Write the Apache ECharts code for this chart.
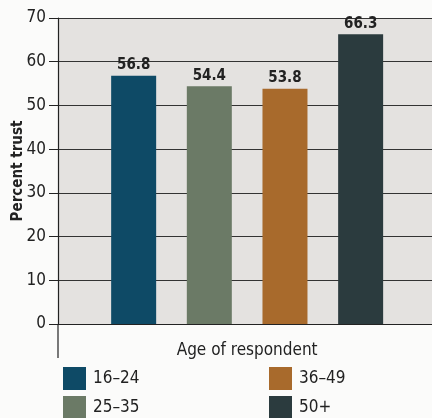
<!DOCTYPE html>
<html>
<head>
<meta charset="utf-8">
<script src="https://cdn.jsdelivr.net/npm/echarts@6/dist/echarts.min.js"></script>
<style>
html,body{margin:0;padding:0;background:#fbfbfa;}
#c{width:432px;height:418px;}
</style>
</head>
<body>
<div id="c"></div>
<script>
const ageGroups = ['16–24', '25–35', '36–49', '50+'];
const trustValues = [56.8, 54.4, 53.8, 66.3];
const barColors = ['#0e4a66', '#6b7a66', '#a86a2c', '#2b3b3e'];
const yTicks = [0, 10, 20, 30, 40, 50, 60, 70];

const FONT = '"Liberation Sans Narrow", "DejaVu Sans Condensed", sans-serif';
const categories = [''].concat(ageGroups, ['']);

const series = ageGroups.map((g, i) => {
  const data = categories.map(c => (c === g ? trustValues[i] : null));
  return {
    name: g,
    type: 'bar',
    data: data,
    barWidth: 45,
    barGap: '-100%',
    itemStyle: { color: barColors[i] },
    label: {
      show: true,
      position: 'top',
      distance: 3,
      fontFamily: FONT,
      fontWeight: 'bold',
      fontSize: 15,
      color: '#222',
      formatter: p => p.value.toFixed(1)
    }
  };
});

const chart = echarts.init(document.getElementById('c'));
const legendCommon = {
  orient: 'vertical',
  top: 367,
  height: 60,
  padding: 0,
  itemWidth: 23,
  itemHeight: 23,
  itemGap: 6,
  icon: 'rect',
  textStyle: { fontFamily: FONT, fontSize: 17, color: '#222', padding: [6, 0, 0, 2] }
};
chart.setOption({
  backgroundColor: '#fbfbfa',
  animation: false,
  grid: {
    left: 58, right: -4.3, top: 18, bottom: 94,
    outerBoundsMode: 'none',
    containLabel: false,
    show: true, backgroundColor: '#e4e2e0', borderWidth: 0
  },
  legend: [
    Object.assign({ left: 63, data: ageGroups.slice(0, 2) }, legendCommon),
    Object.assign({ left: 269, data: ageGroups.slice(2) }, legendCommon)
  ],
  xAxis: {
    type: 'category',
    data: categories,
    boundaryGap: false,
    axisLine: { show: true, lineStyle: { color: '#222', width: 1.2 } },
    axisTick: { show: false },
    axisLabel: { show: false },
    splitLine: { show: false },
    name: 'Age of respondent',
    nameLocation: 'middle',
    nameGap: 18,
    nameTextStyle: { fontFamily: FONT, fontSize: 17, color: '#222', verticalAlign: 'top' }
  },
  yAxis: {
    type: 'value',
    min: yTicks[0],
    max: yTicks[yTicks.length - 1],
    interval: 10,
    axisLine: { show: true, lineStyle: { color: '#222', width: 1.2 } },
    axisTick: { show: true, length: 9, lineStyle: { color: '#222' } },
    axisLabel: { fontFamily: FONT, fontSize: 17, color: '#222', margin: 12 },
    splitLine: { show: true, lineStyle: { color: '#333', width: 1 } },
    name: 'Percent trust',
    nameLocation: 'middle',
    nameGap: 32,
    nameMoveOverlap: false,
    nameRotate: 90,
    nameTextStyle: { fontFamily: FONT, fontSize: 15, fontWeight: 'bold', color: '#222' }
  },
  series: series
});

// extend y-axis line below zero, as in the original
const p0 = chart.convertToPixel({ xAxisIndex: 0, yAxisIndex: 0 }, [0, 0]);
chart.setOption({
  graphic: [{
    type: 'line',
    shape: { x1: p0[0], y1: p0[1], x2: p0[0], y2: p0[1] + 34 },
    style: { stroke: '#222', lineWidth: 1.2 }
  }]
});
</script>
</body>
</html>
